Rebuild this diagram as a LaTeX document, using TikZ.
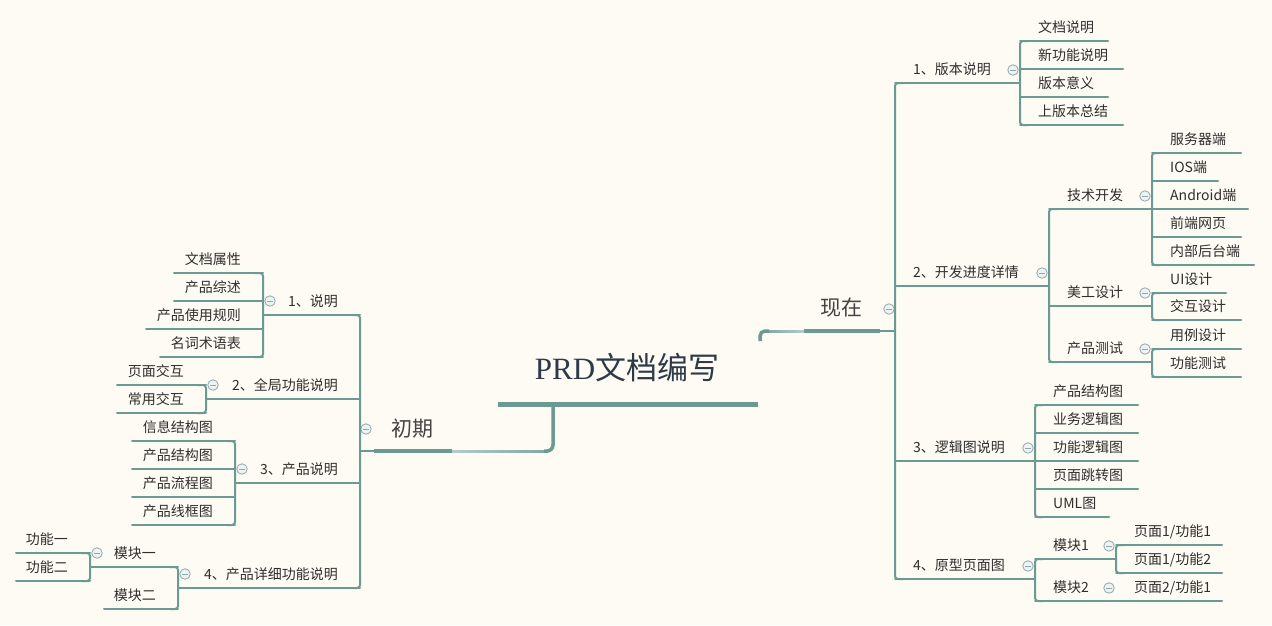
\documentclass[tikz,border=0pt]{standalone}
\usepackage{fontspec}
\setmainfont{Noto Sans CJK SC}
\newfontfamily\titlelatin{Liberation Serif}
\usepackage{tikz}
\usetikzlibrary{positioning,calc}
\definecolor{PaperCream}{HTML}{FEFBF4}
\definecolor{MapTeal}{HTML}{6A9A91}
\definecolor{LinkLight}{HTML}{B2CBC6}
\definecolor{InkGray}{HTML}{2E2E2E}
\definecolor{TitleInk}{HTML}{2F3A48}
\definecolor{FoldGray}{HTML}{8DA9AE}
\definecolor{FoldFill}{HTML}{EEF3F2}
\tikzset{
  branch/.style={line width=2pt,draw=MapTeal,line cap=round},
  fork/.style={line width=2pt,draw=MapTeal,rounded corners=3pt},
  trunkline/.style={line width=4pt,draw=MapTeal},
  rootline/.style={line width=5pt,draw=MapTeal},
  topic/.style={inner sep=0pt,font=\fontsize{14}{16}\selectfont,text=InkGray},
  bigtopic/.style={inner sep=0pt,font=\fontsize{21}{24}\selectfont,text=InkGray!90},
  roottopic/.style={inner sep=0pt,font=\fontsize{31}{34}\selectfont,text=TitleInk},
  fold/.style={circle,draw=FoldGray,fill=FoldFill,line width=0.8pt,
    minimum size=10.5pt,inner sep=0pt,
    path picture={\draw[FoldGray,line width=0.9pt]
      ([xshift=2.5pt]path picture bounding box.west) --
      ([xshift=-2.5pt]path picture bounding box.east);}},
}
% right topic: name, x start, x end, y of line, text
\newcommand{\rtopic}[5]{%
  \coordinate (#1-l) at (#2,#4);
  \coordinate (#1-r) at (#3,#4);
  \draw[branch] (#1-l) -- (#1-r);
  \node[topic,anchor=base west] (#1) at ($(#1-l)+(18,-9)$) {#5};}
% left topic: name, x start, x end, y of line, text
\newcommand{\ltopic}[5]{%
  \coordinate (#1-l) at (#2,#4);
  \coordinate (#1-r) at (#3,#4);
  \draw[branch] (#1-l) -- (#1-r);
  \node[topic,anchor=base east] (#1) at ($(#1-r)+(-22,-9)$) {#5};}
\newcommand{\rfork}[2]{%
  \draw[fork] ($(#1-l)+(8,0)$) -- (#1-l) -- (#2-l) -- ($(#2-l)+(8,0)$);}
\newcommand{\lfork}[2]{%
  \draw[fork] ($(#1-r)+(-8,0)$) -- (#1-r) -- (#2-r) -- ($(#2-r)+(-8,0)$);}
\newcommand{\rfold}[1]{\node[fold] (#1-f) at ($(#1-r)+(-7,-13)$) {};}
\newcommand{\lfold}[1]{\node[fold] (#1-f) at ($(#1-l)+(7,-14)$) {};}

\begin{document}
\begin{tikzpicture}[x=1pt,y=-1pt]
  \fill[PaperCream] (0,0) rectangle (1272,625);
  \useasboundingbox (0,0) rectangle (1272,625);

  % root
  \coordinate (root-l) at (498,404);
  \coordinate (root-r) at (758,404);
  \coordinate (rootdown) at (553,404);
  \coordinate (rootup) at (760,341);
  \draw[rootline] (root-l) -- (root-r);
  \node[roottopic,anchor=base] (root) at (627,379) {{\titlelatin PRD}文档编写};

  % main topics
  \coordinate (chu-l) at (374,451);
  \coordinate (chu-r) at (452,451);
  \draw[trunkline] (chu-l) -- (chu-r);
  \node[bigtopic,anchor=base] (chu) at (412,436) {初期};
  \node[fold] (chu-f) at (366,429) {};

  \coordinate (xian-l) at (804,331);
  \coordinate (xian-r) at (880,331);
  \draw[trunkline] (xian-l) -- (xian-r);
  \node[bigtopic,anchor=base] (xian) at (841,315) {现在};
  \node[fold] (xian-f) at (889,309) {};

  % root links
  \shade[left color=LinkLight,right color=MapTeal!85]
    ($(chu-r)+(0,-1)$) rectangle ($(rootdown |- chu-r)+(-5,1)$);
  \draw[line width=3.5pt,draw=MapTeal,rounded corners=6pt]
    (rootdown) -- (rootdown |- chu-r) -- ++(-9,0);
  \shade[left color=MapTeal!85,right color=LinkLight]
    ($(rootup |- xian-l)+(6,-1)$) rectangle ($(xian-l)+(0,1)$);
  \draw[line width=3.5pt,draw=MapTeal,rounded corners=5pt]
    (rootup) -- (rootup |- xian-l) -- ++(9,0);

  % right side
  \rtopic{ver}{895}{1020}{83}{1、版本说明}
  \rtopic{dev}{895}{1049}{286}{2、开发进度详情}
  \rtopic{logic}{895}{1035}{461}{3、逻辑图说明}
  \rtopic{proto}{895}{1035}{579}{4、原型页面图}
  \rfork{ver}{proto}
  \draw[branch] (xian-r) -- (xian-r -| ver-l);

  \rtopic{verdoc}{1020}{1108}{41}{文档说明}
  \rtopic{vernew}{1020}{1123}{69}{新功能说明}
  \rtopic{versig}{1020}{1108}{97}{版本意义}
  \rtopic{verlast}{1020}{1123}{125}{上版本总结}
  \rfork{verdoc}{verlast}

  \rtopic{tech}{1049}{1152}{209}{技术开发}
  \rtopic{art}{1049}{1152}{306}{美工设计}
  \rtopic{test}{1049}{1152}{362}{产品测试}
  \rfork{tech}{test}

  \rtopic{srv}{1152}{1241}{153}{服务器端}
  \rtopic{ios}{1152}{1218}{181}{IOS端}
  \rtopic{andr}{1152}{1248}{209}{Android端}
  \rtopic{web}{1152}{1241}{237}{前端网页}
  \rtopic{admin}{1152}{1254}{265}{内部后台端}
  \rfork{srv}{admin}

  \rtopic{ui}{1152}{1226}{293}{UI设计}
  \rtopic{inter}{1152}{1241}{320}{交互设计}
  \rfork{ui}{inter}

  \rtopic{usecase}{1152}{1241}{349}{用例设计}
  \rtopic{functest}{1152}{1241}{377}{功能测试}
  \rfork{usecase}{functest}

  \rtopic{lstruct}{1035}{1138}{405}{产品结构图}
  \rtopic{lbiz}{1035}{1138}{433}{业务逻辑图}
  \rtopic{lfunc}{1035}{1138}{461}{功能逻辑图}
  \rtopic{lpage}{1035}{1138}{489}{页面跳转图}
  \rtopic{luml}{1035}{1109}{517}{UML图}
  \rfork{lstruct}{luml}

  \rtopic{modone}{1035}{1116}{559}{模块1}
  \rtopic{modtwo}{1035}{1116}{601}{模块2}
  \rfork{modone}{modtwo}

  \rtopic{pa}{1116}{1222}{545}{页面1/功能1}
  \rtopic{pb}{1116}{1222}{573}{页面1/功能2}
  \rfork{pa}{pb}
  \rtopic{pc}{1116}{1222}{601}{页面2/功能1}

  \rfold{ver} \rfold{dev} \rfold{logic} \rfold{proto}
  \rfold{tech} \rfold{art} \rfold{test}
  \rfold{modone} \rfold{modtwo}

  % left side
  \ltopic{intro}{263}{360}{315}{1、说明}
  \ltopic{glob}{206}{360}{399}{2、全局功能说明}
  \ltopic{prod}{235}{360}{483}{3、产品说明}
  \ltopic{detail}{178}{360}{588}{4、产品详细功能说明}
  \lfork{intro}{detail}
  \draw[branch] (chu-l) -- (chu-l -| intro-r);

  \ltopic{attr}{174}{263}{273}{文档属性}
  \ltopic{summ}{174}{263}{301}{产品综述}
  \ltopic{rules}{146}{263}{329}{产品使用规则}
  \ltopic{gloss}{160}{263}{357}{名词术语表}
  \lfork{attr}{gloss}

  \ltopic{pageix}{117}{206}{385}{页面交互}
  \ltopic{commix}{117}{206}{413}{常用交互}
  \lfork{pageix}{commix}

  \ltopic{info}{132}{235}{441}{信息结构图}
  \ltopic{pstruct}{132}{235}{469}{产品结构图}
  \ltopic{pflow}{132}{235}{497}{产品流程图}
  \ltopic{pwire}{132}{235}{525}{产品线框图}
  \lfork{info}{pwire}

  \ltopic{moda}{90}{178}{567}{模块一}
  \ltopic{modb}{104}{178}{609}{模块二}
  \lfork{moda}{modb}

  \ltopic{funa}{16}{90}{553}{功能一}
  \ltopic{funb}{16}{90}{581}{功能二}
  \lfork{funa}{funb}

  \lfold{intro} \lfold{glob} \lfold{prod} \lfold{detail}
  \lfold{moda}
\end{tikzpicture}
\end{document}
